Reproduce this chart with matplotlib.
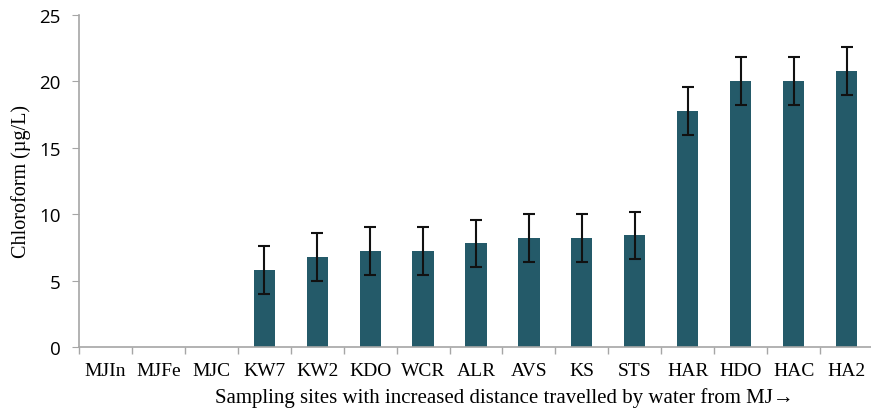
import matplotlib
matplotlib.use("Agg")
import matplotlib.pyplot as plt
import numpy as np

# sampling sites, in order of distance travelled from MJ
sites = ["MJIn", "MJFe", "MJC", "KW7", "KW2", "KDO", "WCR", "ALR", "AVS",
         "KS", "STS", "HAR", "HDO", "HAC", "HA2"]
chloroform = [0, 0, 0, 5.8, 6.8, 7.2, 7.2, 7.8, 8.2, 8.2, 8.4, 17.8, 20.0, 20.0, 20.8]
err = [0, 0, 0, 1.8, 1.8, 1.8, 1.8, 1.8, 1.8, 1.8, 1.8, 1.8, 1.8, 1.8, 1.8]

serif = ["Liberation Serif", "DejaVu Serif"]
grey = "#a6a6a6"

fig = plt.figure(figsize=(8.71, 4.14), dpi=100)
ax = fig.add_axes([79 / 871, 1 - 348 / 414, (873 - 79) / 871, (348 - 16) / 414])

x = np.arange(len(sites))
vals = np.array(chloroform)
has = vals > 0
ax.bar(x[has], vals[has], width=0.4, color="#245a69")
ax.errorbar(x[has], vals[has], yerr=np.array(err)[has], fmt="none",
            ecolor="#111111", elinewidth=1.5, capsize=4, capthick=1.5)

ax.set_xlim(-0.5, len(sites) - 0.5)
ax.set_ylim(0, 25)
ax.set_yticks([0, 5, 10, 15, 20, 25])
ax.set_xticks(x)
ax.set_xticklabels(sites, fontfamily=serif, fontsize=14)
ax.set_xticks(np.arange(len(sites) + 1) - 0.5, minor=True)
ax.tick_params(axis="x", which="major", length=0, pad=11)
ax.tick_params(axis="x", which="minor", length=5, color=grey, width=1)
ax.tick_params(axis="y", length=5, color=grey, labelsize=13.5, pad=8)
for lbl in ax.get_yticklabels():
    lbl.set_fontfamily("Open Sans")

for side in ["top", "right"]:
    ax.spines[side].set_visible(False)
for side in ["left", "bottom"]:
    ax.spines[side].set_color(grey)
    ax.spines[side].set_linewidth(1.2)

ax.set_ylabel("Chloroform (µg/L)", fontfamily=serif, fontsize=14.5)
ax.yaxis.set_label_coords(-(79 - 31) / 794, 0.5)
ax.set_xlabel("Sampling sites with increased distance travelled by water from MJ→",
              fontfamily=serif, fontsize=15)
ax.xaxis.set_label_coords((504 - 79) / 794, -0.122)

fig.savefig("out.png", dpi=100)
